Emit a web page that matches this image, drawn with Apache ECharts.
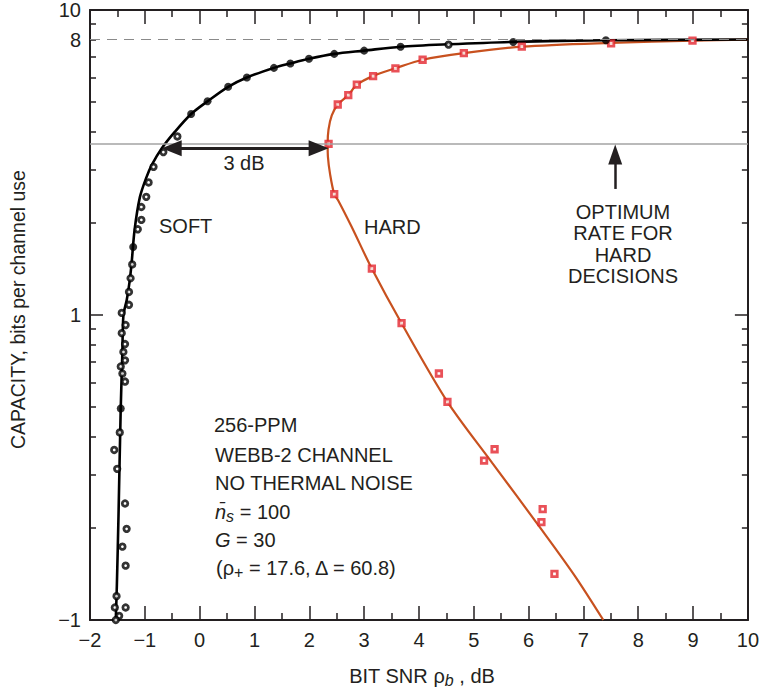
<!DOCTYPE html>
<html>
<head>
<meta charset="utf-8">
<script src="https://cdn.jsdelivr.net/npm/echarts@6/dist/echarts.min.js"></script>
<style>
html, body { margin: 0; padding: 0; background: #fff; }
#chart { width: 762px; height: 693px; }
</style>
</head>
<body>
<div id="chart"></div>
<script>
// soft-decision capacity curve (black) and its simulation points
const softLineX = [-1.53, -1.51, -1.48, -1.44, -1.41, -1.39, -1.33, -1.28, -1.241, -1.187, -1.091, -0.98, -0.87, -0.69, -0.45, -0.155, 0.144, 0.52, 0.861, 1.355, 1.654, 1.994, 2.455, 3.0, 3.665, 4.54, 5.72, 7.41, 10];
const softLineY = [0.1, 0.13, 0.22, 0.49, 0.75, 1.0, 1.12, 1.28, 1.48, 1.9, 2.43, 2.8, 3.11, 3.52, 3.99, 4.56, 5.02, 5.6, 6.01, 6.46, 6.68, 6.92, 7.18, 7.36, 7.58, 7.72, 7.86, 7.96, 8.0];

const softDotX = [-1.439, -1.212, -0.155, 0.144, 0.52, 0.861, 1.355, 1.654, 1.994, 2.455, 3.0, 3.665, 5.72, 7.41];
const softDotY = [0.494, 1.67, 4.56, 5.02, 5.60, 6.01, 6.46, 6.68, 6.92, 7.18, 7.36, 7.58, 7.85, 7.96];

const softOpenX = [4.54, -0.406, -0.662, -0.841, -0.931, -0.974, -1.063, -1.063, -1.128, -1.23, -1.26, -1.289, -1.289, -1.421, -1.35, -1.421, -1.361, -1.391, -1.361, -1.439, -1.409, -1.361, -1.457, -1.558, -1.504, -1.361, -1.332, -1.409, -1.35, -1.516, -1.547, -1.35, -1.468, -1.529];
const softOpenY = [7.70, 3.85, 3.42, 3.06, 2.72, 2.44, 2.26, 2.05, 1.91, 1.465, 1.32, 1.19, 1.08, 1.016, 0.927, 0.872, 0.803, 0.757, 0.71, 0.678, 0.643, 0.605, 0.412, 0.361, 0.313, 0.241, 0.199, 0.174, 0.1507, 0.1197, 0.1099, 0.1099, 0.1032, 0.1];

// hard-decision curve (red) and its points
const hardLineX = [7.363, 6.843, 6.251, 5.336, 4.52, 3.68, 3.14, 2.77, 2.53, 2.455, 2.38, 2.34, 2.335, 2.35, 2.41, 2.52, 2.71, 2.87, 3.16, 3.57, 4.07, 4.82, 5.88, 7.5, 9.0, 10];
const hardLineY = [0.1, 0.1396, 0.1964, 0.3275, 0.519, 0.941, 1.42, 1.95, 2.37, 2.49, 2.89, 3.3, 3.64, 4.05, 4.51, 4.9, 5.26, 5.69, 6.07, 6.44, 6.87, 7.22, 7.58, 7.8, 7.93, 8.0];

const hardDotX = [2.352, 2.519, 2.711, 2.867, 3.164, 3.571, 4.067, 4.819, 5.876, 7.505, 8.99, 2.455, 3.141, 3.683, 4.364, 4.52, 5.38, 5.188, 6.257, 6.234, 6.472];
const hardDotY = [3.64, 4.90, 5.26, 5.69, 6.07, 6.44, 6.87, 7.22, 7.58, 7.77, 7.93, 2.49, 1.419, 0.941, 0.643, 0.519, 0.363, 0.333, 0.231, 0.2095, 0.1417];

// reference levels and arrows
const asymptote = 8;
const optimumRate = 3.64;
const gapArrowX = [-0.51, 2.17];
const gapArrowY = 3.52;
const optArrowX = 7.58;
const optArrowY = [2.59, 3.36];

// ticks
const yMajorTicks = [0.1, 1, 10];
const yMinorTicks = [0.2, 0.3, 0.4, 0.5, 0.6, 0.7, 0.8, 0.9, 2, 3, 4, 5, 6, 7, 8, 9];
const yLabels = [0.1, 1, 8, 10];

const ink = '#231f20';
const font = "'Liberation Sans', Arial, Helvetica, sans-serif";
const zip = (xs, ys) => xs.map((x, i) => [x, ys[i]]);
const minus = v => (v < 0 ? '\u2212' + (-v) : String(v));

function xAxis(position, showLabel) {
  return {
    type: 'value', position: position, min: -2, max: 10, interval: 1,
    axisLine: { show: true, onZero: false, lineStyle: { color: ink, width: 2 } },
    axisTick: { show: true, inside: true, length: 14, lineStyle: { color: ink, width: 1.5 } },
    minorTick: { show: true, splitNumber: 2, length: 7, lineStyle: { color: ink, width: 1.5 } },
    axisLabel: { show: showLabel, fontSize: 20, color: ink, fontFamily: font, margin: 10, formatter: minus },
    splitLine: { show: false }
  };
}

function yAxis(position, ticks, len, showLine, showLabel) {
  return {
    type: 'log', logBase: 10, position: position, min: 0.1, max: 10,
    axisLine: { show: showLine, onZero: false, lineStyle: { color: ink, width: 2 } },
    axisTick: { show: true, inside: true, length: len, customValues: ticks, lineStyle: { color: ink, width: 1.5 } },
    axisLabel: {
      show: showLabel, customValues: yLabels, fontSize: 20, color: ink, fontFamily: font, margin: 9,
      formatter: v => (Math.abs(v - 0.1) < 1e-6 ? '\u22121' : String(Math.round(v)))
    },
    splitLine: { show: false },
    minorTick: { show: false }
  };
}

const xa0 = xAxis('bottom', true);
xa0.name = 'BIT SNR {r|\u03c1}{sub|b} , dB';
xa0.nameLocation = 'middle';
xa0.nameGap = 44;
xa0.nameTextStyle = {
  fontSize: 20, color: ink, fontFamily: font, lineHeight: 24, padding: [0, 0, 0, 6],
  rich: {
    r: { fontSize: 20, color: ink, fontFamily: font, lineHeight: 24 },
    sub: { fontSize: 16, fontStyle: 'italic', color: ink, fontFamily: font, lineHeight: 10, verticalAlign: 'bottom' }
  }
};

const ya0 = yAxis('left', yMajorTicks, 13, true, true);
ya0.name = 'CAPACITY, bits per channel use';
ya0.nameLocation = 'middle';
ya0.nameGap = 62;
ya0.nameTextStyle = { fontSize: 19.5, color: ink, fontFamily: font, padding: [0, 0, 0, 11] };

const chart = echarts.init(document.getElementById('chart'), null, { renderer: 'svg' });
chart.setOption({
  animation: false,
  backgroundColor: '#fff',
  grid: { left: 87, right: 6, top: 6, bottom: 66, containLabel: false },
  xAxis: [xa0, xAxis('top', false)],
  yAxis: [
    ya0,
    yAxis('left', yMinorTicks, 6, false, false),
    yAxis('right', yMajorTicks, 13, true, false),
    yAxis('right', yMinorTicks, 6, false, false)
  ],
  series: [
    {
      name: 'guides', type: 'line', data: [], z: 1,
      markLine: {
        silent: true, symbol: 'none', label: { show: false },
        data: [
          { yAxis: asymptote, lineStyle: { type: [10, 7], color: '#8a8a8a', width: 1.2 } },
          { yAxis: optimumRate, lineStyle: { type: 'solid', color: '#a3a3a3', width: 1.6 } }
        ]
      }
    },
    {
      name: 'hard', type: 'line', data: zip(hardLineX, hardLineY), z: 3,
      showSymbol: false, smooth: 0.3,
      lineStyle: { color: '#c8511f', width: 2.2 }
    },
    {
      name: 'soft', type: 'line', data: zip(softLineX, softLineY), z: 3,
      showSymbol: false, smooth: 0.3,
      lineStyle: { color: '#000', width: 2.6 }
    },
    {
      name: 'hard points', type: 'scatter', data: zip(hardDotX, hardDotY), z: 4,
      symbol: 'rect', symbolSize: 5.5,
      itemStyle: { color: '#fff', borderColor: '#e4252e', borderWidth: 2.8 }
    },
    {
      name: 'soft open', type: 'scatter', data: zip(softOpenX, softOpenY), z: 4,
      symbol: 'circle', symbolSize: 5.5,
      itemStyle: { color: '#fff', borderColor: '#000', borderWidth: 2.8 }
    },
    {
      name: 'soft filled', type: 'scatter', data: zip(softDotX, softDotY), z: 4,
      symbol: 'circle', symbolSize: 8,
      itemStyle: { color: '#000' }
    },
    {
      name: 'arrows', type: 'line', data: [], z: 5,
      markLine: {
        silent: true, label: { show: false },
        lineStyle: { color: ink, width: 3, type: 'solid' },
        data: [
          [
            { coord: [gapArrowX[0], gapArrowY], symbol: 'triangle', symbolSize: [16, 20] },
            { coord: [gapArrowX[1], gapArrowY], symbol: 'triangle', symbolSize: [16, 20] }
          ],
          [
            { coord: [optArrowX, optArrowY[0]], symbol: 'none', lineStyle: { width: 2.5 } },
            { coord: [optArrowX, optArrowY[1]], symbol: 'triangle', symbolSize: [14, 20] }
          ]
        ]
      }
    }
  ],
  graphic: [
    { type: 'text', x: 244, y: 163, style: { text: '3 dB', font: '20px ' + font, fill: ink, align: 'center', verticalAlign: 'middle' } },
    { type: 'text', x: 159, y: 226, style: { text: 'SOFT', font: '20px ' + font, fill: ink, align: 'left', verticalAlign: 'middle' } },
    { type: 'text', x: 364, y: 227, style: { text: 'HARD', font: '20px ' + font, fill: ink, align: 'left', verticalAlign: 'middle' } },
    { type: 'text', x: 623, y: 201, style: { text: 'OPTIMUM\nRATE FOR\nHARD\nDECISIONS', font: '20px ' + font, lineHeight: 21.5, fill: ink, align: 'center', verticalAlign: 'top' } },
    { type: 'text', x: 214, y: 425, style: { text: '256-PPM', font: '20px ' + font, fill: ink, verticalAlign: 'middle' } },
    { type: 'text', x: 215, y: 455, style: { text: 'WEBB-2 CHANNEL', font: '20px ' + font, fill: ink, verticalAlign: 'middle' } },
    { type: 'text', x: 215, y: 483, style: { text: 'NO THERMAL NOISE', font: '20px ' + font, fill: ink, verticalAlign: 'middle' } },
    {
      type: 'text', x: 215, y: 512,
      style: {
        text: '{it|n\u0304}{sub|s}{t| = 100}', fill: ink, verticalAlign: 'middle',
        rich: {
          it: { fontSize: 20, fontStyle: 'italic', fontFamily: font, fill: ink, lineHeight: 24 },
          sub: { fontSize: 16, fontStyle: 'italic', fontFamily: font, fill: ink, lineHeight: 10, verticalAlign: 'bottom' },
          t: { fontSize: 20, fontFamily: font, fill: ink, lineHeight: 24 }
        }
      }
    },
    {
      type: 'text', x: 215, y: 540,
      style: {
        text: '{it|G}{t| = 30}', fill: ink, verticalAlign: 'middle',
        rich: {
          it: { fontSize: 20, fontStyle: 'italic', fontFamily: font, fill: ink, lineHeight: 24 },
          t: { fontSize: 20, fontFamily: font, fill: ink, lineHeight: 24 }
        }
      }
    },
    {
      type: 'text', x: 216, y: 568,
      style: {
        text: '{t|(\u03c1}{sub|+}{t| = 17.6, \u0394 = 60.8)}', fill: ink, verticalAlign: 'middle',
        rich: {
          t: { fontSize: 20, fontFamily: font, fill: ink, lineHeight: 24 },
          sub: { fontSize: 16, fontFamily: font, fill: ink, lineHeight: 10, verticalAlign: 'bottom' }
        }
      }
    }
  ]
});
</script>
</body>
</html>
